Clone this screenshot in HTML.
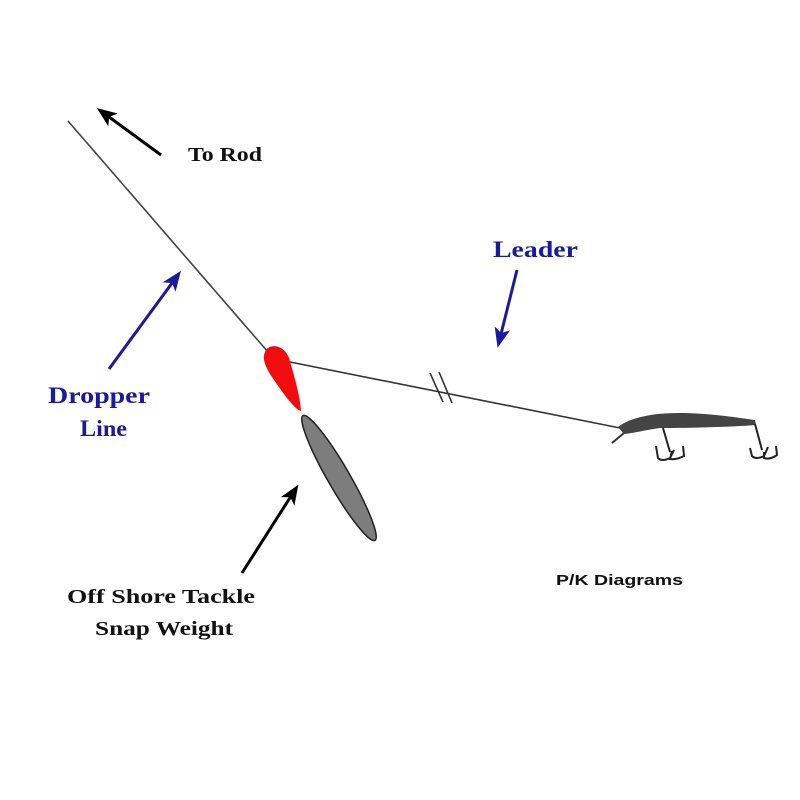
<!DOCTYPE html>
<html><head><style>body{margin:0;background:#fff}svg{display:block}</style></head><body>
<svg width="800" height="800" viewBox="0 0 800 800" xmlns="http://www.w3.org/2000/svg">
<defs>
<marker id="ak" markerWidth="20" markerHeight="20" refX="10" refY="8" orient="auto" markerUnits="userSpaceOnUse" viewBox="0 0 20 16"><path d="M0,0 L20,8 L0,16 L5,8 Z" fill="#000"/></marker>
<marker id="ab" markerWidth="20" markerHeight="20" refX="10" refY="8" orient="auto" markerUnits="userSpaceOnUse" viewBox="0 0 20 16"><path d="M0,0 L20,8 L0,16 L5,8 Z" fill="#1a1aa0"/></marker>
</defs>
<rect width="800" height="800" fill="#fff"/>
<line x1="68" y1="121" x2="268" y2="352" stroke="#444" stroke-width="1.6"/>
<line x1="285" y1="361" x2="620" y2="428" stroke="#333" stroke-width="1.6"/>
<line x1="430" y1="373" x2="443" y2="402" stroke="#333" stroke-width="1.6"/>
<line x1="439" y1="372" x2="452" y2="403" stroke="#333" stroke-width="1.6"/>
<path d="M265,352 C268,343 284,344 289,358 C293,372 300,395 301,411 C295,410 282,392 272,377 C265,367 262,358 265,352 Z" fill="#f10d0d"/>
<ellipse cx="339" cy="478" rx="11" ry="72" transform="rotate(-30 339 478)" fill="#7d7d7d" stroke="#222" stroke-width="1.5"/>
<path d="M618,427 C630,418 650,413 680,413 C710,413 740,418 755,420 L756,425 C730,427 690,428 660,428 C645,430 635,433 624,434 Z" fill="#444"/>
<line x1="624" y1="433" x2="612" y2="443" stroke="#333" stroke-width="2"/>
<path d="M663,428 L670,452 M656,446 L658,458 Q662,462 670,458 L674,450 M672,451 L670,459 Q676,460 684,456 L683,446" stroke="#222" stroke-width="2" fill="none"/>
<path d="M755,424 L762,450 M750,448 L752,456 Q756,460 764,456 L768,447 M764,452 L764,458 Q770,460 777,455 L776,446" stroke="#222" stroke-width="2" fill="none"/>
<line x1="161" y1="155" x2="105" y2="114" stroke="#000" stroke-width="3" marker-end="url(#ak)"/>
<line x1="109" y1="369" x2="175" y2="279" stroke="#1a1aa0" stroke-width="3" marker-end="url(#ab)"/>
<line x1="517" y1="270" x2="500" y2="338" stroke="#1a1aa0" stroke-width="3" marker-end="url(#ab)"/>
<line x1="242" y1="573" x2="293" y2="493" stroke="#000" stroke-width="3" marker-end="url(#ak)"/>
<g font-family="Liberation Serif, serif" font-weight="bold">
<text x="188" y="161" font-size="20" fill="#111" textLength="74" lengthAdjust="spacingAndGlyphs">To Rod</text>
<text x="493" y="257" font-size="23" fill="#1a1aa0" textLength="85" lengthAdjust="spacingAndGlyphs">Leader</text>
<text x="48" y="403" font-size="23" fill="#1a1aa0" textLength="102" lengthAdjust="spacingAndGlyphs">Dropper</text>
<text x="80" y="436" font-size="23" fill="#1a1aa0" textLength="47" lengthAdjust="spacingAndGlyphs">Line</text>
<text x="67" y="603" font-size="20" fill="#111" textLength="188" lengthAdjust="spacingAndGlyphs">Off Shore Tackle</text>
<text x="95" y="635" font-size="20" fill="#111" textLength="138" lengthAdjust="spacingAndGlyphs">Snap Weight</text>
</g>
<text x="556" y="585" font-family="Liberation Sans, sans-serif" font-weight="bold" font-size="15" fill="#111" textLength="127" lengthAdjust="spacingAndGlyphs">P/K Diagrams</text>
</svg>
</body></html>
